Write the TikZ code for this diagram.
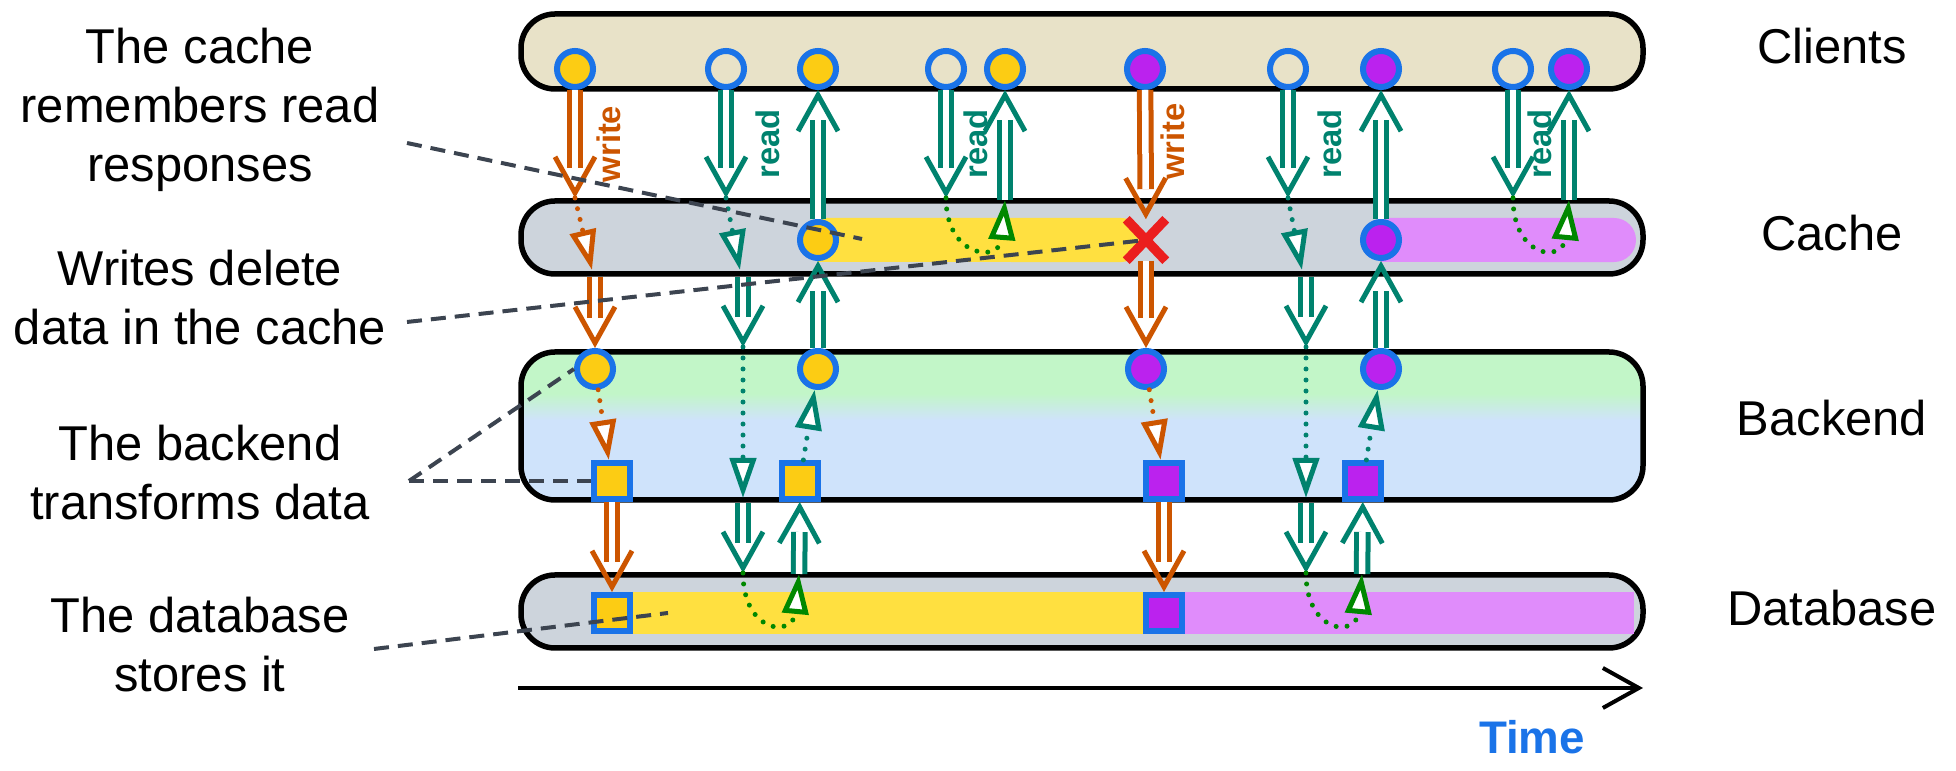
\documentclass[tikz,border=0pt]{standalone}
\usepackage{fontspec}
\setmainfont{Liberation Sans}
\usepackage{tikz}
\usepackage{xcolor}
\usetikzlibrary{arrows.meta,shapes.misc,decorations.markings}

\definecolor{clientfill}{RGB}{232,226,200}
\definecolor{lanegray}{RGB}{205,212,220}
\definecolor{backgreen}{RGB}{194,246,200}
\definecolor{backblue}{RGB}{207,227,251}
\definecolor{dotyellow}{RGB}{252,204,20}
\definecolor{bandyellow}{RGB}{255,224,64}
\definecolor{dotpurple}{RGB}{187,34,238}
\definecolor{bandpurple}{RGB}{224,140,251}
\definecolor{ringblue}{RGB}{26,115,232}
\definecolor{wrorange}{RGB}{204,85,0}
\definecolor{rdteal}{RGB}{0,130,110}
\definecolor{hitgreen}{RGB}{0,136,0}
\definecolor{crossred}{RGB}{235,30,30}
\definecolor{notegray}{RGB}{60,68,80}

\pgfdeclareverticalshading{backendshade}{100bp}{color(0bp)=(backblue); color(52bp)=(backblue); color(61bp)=(backgreen); color(100bp)=(backgreen)}

\begin{document}
\begin{tikzpicture}[x=0.01cm, y=-0.01cm,
    lane/.style={draw=black, line width=0.055cm, rounded corners=0.34cm},
    dot/.style={circle, draw=ringblue, line width=0.06cm, minimum size=0.36cm, inner sep=0pt},
    box/.style={rectangle, draw=ringblue, line width=0.06cm, minimum size=0.36cm, inner sep=0pt},
    crossout/.style={cross out, draw=crossred, line width=0.095cm, minimum width=0.30cm, minimum height=0.32cm, inner sep=0pt},
    dbl/.style={draw=white, line width=0.065cm, shorten >=0.30cm,
      preaction={draw=#1, line width=0.165cm, shorten >=0.30cm},
      postaction={decorate, decoration={markings, mark=at position 1 with {\arrow[#1, line width=0.05cm]{Straight Barb[length=0.36cm, width=0.40cm]}}}}},
    wr/.style={dbl=wrorange},
    rd/.style={dbl=rdteal},
    wrdot/.style={draw=wrorange, line width=0.05cm, line cap=round, dash pattern=on 0pt off 0.11cm, -{Triangle[length=0.40cm, width=0.26cm, fill=white]}},
    rddot/.style={wrdot, draw=rdteal},
    hitdot/.style={wrdot, draw=hitgreen},
    note/.style={draw=notegray, line width=0.04cm, dash pattern=on 0.15cm off 0.09cm},
    notetext/.style={align=center, font=\fontsize{13.9}{16.8}\selectfont},
    lanelabel/.style={font=\fontsize{13.9}{16.8}\selectfont},
    oplabel/.style={rotate=90, font=\bfseries\fontsize{9.3}{10}\selectfont},
  ]
      \useasboundingbox (0,0) rectangle (1956,771);
      \draw [lane, fill=clientfill] (521,14) rectangle (1643,89);
      \draw [lane, fill=lanegray] (521,201) rectangle (1643,274);
      \draw [lane, shading=backendshade] (521,352) rectangle (1643,500);
      \draw [lane, fill=lanegray] (521,575) rectangle (1643,648);
      \fill [bandyellow] (818,218) -- (1121,218) arc [start angle=90, end angle=-90, radius=0.22cm] -- (818,262) -- cycle;
      \fill [bandpurple] (1381,218) -- (1614,218) arc [start angle=90, end angle=-90, radius=0.22cm] -- (1381,262) -- cycle;
      \fill [bandyellow] (612,592) rectangle (1145,634);
      \fill [bandpurple] (1164,592) rectangle (1634,634);

      \node (c1) at (575,69) [dot, fill=dotyellow] {};
      \node (c2) at (726,69) [dot] {};
      \node (c3) at (818,69) [dot, fill=dotyellow] {};
      \node (c4) at (946,69) [dot] {};
      \node (c5) at (1005,69) [dot, fill=dotyellow] {};
      \node (c6) at (1145,69) [dot, fill=dotpurple] {};
      \node (c7) at (1288,69) [dot] {};
      \node (c8) at (1381,69) [dot, fill=dotpurple] {};
      \node (c9) at (1513,69) [dot] {};
      \node (c10) at (1569,69) [dot, fill=dotpurple] {};
      \node (k1) at (818,240) [dot, fill=dotyellow] {};
      \node (x1) at (1146,240) [crossout] {};
      \node (k2) at (1381,240) [dot, fill=dotpurple] {};
      \node (b1) at (595,369) [dot, fill=dotyellow] {};
      \node (b2) at (818,369) [dot, fill=dotyellow] {};
      \node (b3) at (1146,369) [dot, fill=dotpurple] {};
      \node (b4) at (1381,369) [dot, fill=dotpurple] {};
      \node (s1) at (612,481) [box, fill=dotyellow] {};
      \node (s2) at (800,481) [box, fill=dotyellow] {};
      \node (s3) at (1164,481) [box, fill=dotpurple] {};
      \node (s4) at (1363,481) [box, fill=dotpurple] {};
      \node (d1) at (612,613) [box, fill=dotyellow] {};
      \node (d2) at (1164,613) [box, fill=dotpurple] {};

      \coordinate (w1a) at (575,198);
      \coordinate (w1b) at (592,270);
      \coordinate (w1c) at (595,277);
      \draw [wr] (c1) -- node [xshift=0.34cm, oplabel, text=wrorange] {write} (w1a);
      \draw [wrdot] (w1a) -- (w1b);
      \draw [wr] (w1c) -- (b1);
      \draw [wrdot] (b1) -- (s1);
      \draw [wr] (s1) -- (d1);

      \coordinate (r1a) at (726,198);
      \coordinate (r1b) at (740,270);
      \coordinate (r1c) at (743,277);
      \coordinate (r1d) at (743,347);
      \coordinate (r1e) at (743,498);
      \coordinate (r1f) at (743,503);
      \coordinate (r1g) at (743,573);
      \coordinate (r1h) at (799,574);
      \draw [rd] (c2) -- node [xshift=0.42cm, oplabel, text=rdteal] {read} (r1a);
      \draw [rddot] (r1a) -- (r1b);
      \draw [rd] (r1c) -- (r1d);
      \draw [rddot] (r1d) -- (r1e);
      \draw [rd] (r1f) -- (r1g);
      \draw [hitdot] (r1g) .. controls (743,633) and (793,638) .. (r1h);
      \draw [rd] (r1h) -- (s2);
      \draw [rddot] (s2) -- (b2);
      \draw [rd] (b2) -- (k1);
      \draw [rd] (k1) -- (c3);

      \coordinate (r2a) at (946,198);
      \coordinate (r2b) at (1005,200);
      \draw [rd] (c4) -- node [xshift=0.30cm, oplabel, text=rdteal] {read} (r2a);
      \draw [hitdot] (r2a) .. controls (946,258) and (1000,263) .. (r2b);
      \draw [rd] (r2b) -- (c5);

      \draw [wr] (c6) -- node [pos=0.4, xshift=0.27cm, oplabel, text=wrorange] {write} (x1);
      \draw [wr] (x1) -- (b3);
      \draw [wrdot] (b3) -- (s3);
      \draw [wr] (s3) -- (d2);

      \coordinate (r3a) at (1288,198);
      \coordinate (r3b) at (1302,270);
      \coordinate (r3c) at (1306,277);
      \coordinate (r3d) at (1306,347);
      \coordinate (r3e) at (1306,498);
      \coordinate (r3f) at (1306,503);
      \coordinate (r3g) at (1306,573);
      \coordinate (r3h) at (1362,574);
      \draw [rd] (c7) -- node [xshift=0.42cm, oplabel, text=rdteal] {read} (r3a);
      \draw [rddot] (r3a) -- (r3b);
      \draw [rd] (r3c) -- (r3d);
      \draw [rddot] (r3d) -- (r3e);
      \draw [rd] (r3f) -- (r3g);
      \draw [hitdot] (r3g) .. controls (1306,633) and (1356,638) .. (r3h);
      \draw [rd] (r3h) -- (s4);
      \draw [rddot] (s4) -- (b4);
      \draw [rd] (b4) -- (k2);
      \draw [rd] (k2) -- (c8);

      \coordinate (r4a) at (1513,198);
      \coordinate (r4b) at (1569,200);
      \draw [rd] (c9) -- node [xshift=0.27cm, oplabel, text=rdteal] {read} (r4a);
      \draw [hitdot] (r4a) .. controls (1513,258) and (1563,263) .. (r4b);
      \draw [rd] (r4b) -- (c10);

      \node (cachenote) at (200,110) [notetext] {The cache\\remembers read\\responses};
      \node (writenote) at (200,298) [notetext] {Writes delete\\data in the cache};
      \node (backnote) at (200,473) [notetext] {The backend\\transforms data};
      \node (dbnote) at (200,645) [notetext] {The database\\stores it};
      \coordinate (n1) at (407,143);
      \coordinate (n1e) at (862,239);
      \coordinate (n2) at (407,322);
      \coordinate (n3) at (409,481);
      \coordinate (n4) at (374,649);
      \coordinate (n4e) at (668,613);
      \draw [note] (n1) -- (n1e);
      \draw [note] (n2) -- (x1.center);
      \draw [note] (n3) -- (b1.west);
      \draw [note] (n3) -- (s1.west);
      \draw [note] (n4) -- (n4e);

      \foreach \lbl/\yy/\nm in {Clients/46/lc, Cache/233/lk, Backend/418/lb, Database/608/ld}
        \node (\nm) at (1832,\yy) [lanelabel] {\lbl};

      \coordinate (time0) at (518,688);
      \coordinate (time1) at (1643,688);
      \draw [line width=0.04cm, -{Straight Barb[length=0.36cm, width=0.40cm]}] (time0) -- (time1);
      \node (timelbl) at (1532,737) [font=\bfseries\fontsize{13}{15}\selectfont, text=ringblue] {Time};
    \end{tikzpicture}
\end{document}
